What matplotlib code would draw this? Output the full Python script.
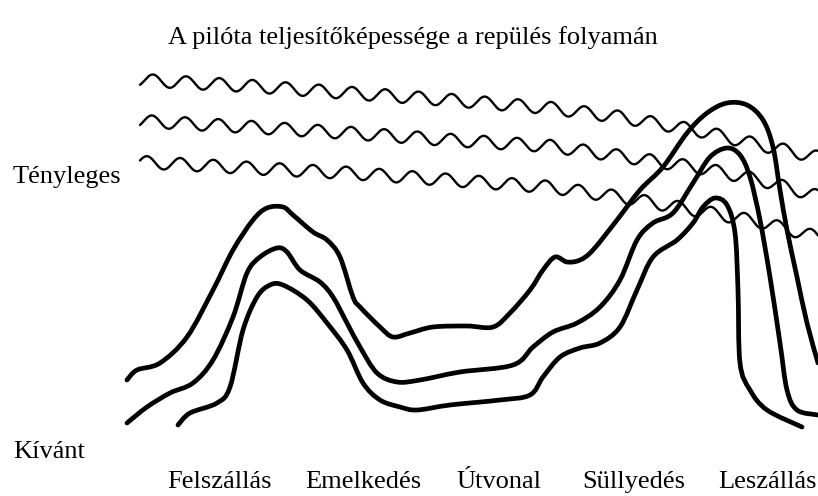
import numpy as np
import matplotlib
matplotlib.use("Agg")
import matplotlib.pyplot as plt
from matplotlib.path import Path
from matplotlib.patches import PathPatch

# ---- data (in image-pixel units, y downward) ----
title = "A pilóta teljesítőképessége a repülés folyamán"
label_top = "Tényleges"
label_bottom = "Kívánt"
phases = ["Felszállás", "Emelkedés", "Útvonal", "Süllyedés", "Leszállás"]

# "Tényleges" (actual) wavy lines: baseline points
wave_x = [140, 250, 350, 450, 550, 620, 700, 760, 818]
wave1_y = [80, 86, 93, 100, 108, 117, 131, 145, 157]
wave2_y = [121, 127, 133, 140, 146, 156, 168, 180, 196]
wave3_y = [162, 168, 173, 180, 187, 197, 211, 222, 237]
wave_first_peak = [153, 152, 147]

# thick "Kívánt" (required) curves
outer_x = [127, 137, 160, 187, 213, 233, 253, 267, 283, 293, 313, 327, 340, 353,
           360, 380, 393, 410, 433, 467, 493, 510, 530, 543, 555, 567, 580, 593,
           617, 640, 663, 687, 707, 727, 747, 763, 773, 780, 787, 797, 807, 818]
outer_y = [380, 370, 363, 337, 290, 250, 220, 208, 207, 215, 232, 240, 257, 297,
           307, 327, 337, 333, 327, 326, 327, 313, 290, 270, 257, 262, 260, 250,
           220, 190, 167, 133, 113, 103, 105, 120, 147, 190, 230, 277, 323, 363]

middle_x = [127, 147, 170, 193, 213, 233, 247, 260, 277, 287, 300, 320, 333, 347,
            360, 377, 397, 420, 460, 513, 533, 553, 577, 600, 620, 637, 653, 673,
            693, 710, 727, 740, 750, 760, 770, 780, 787, 797, 818]
middle_y = [423, 407, 393, 383, 360, 317, 273, 257, 248, 252, 270, 282, 297, 323,
            347, 373, 382, 380, 372, 365, 347, 332, 323, 307, 280, 240, 223, 213,
            183, 157, 148, 155, 177, 220, 277, 343, 390, 410, 415]

inner_x = [178, 190, 217, 230, 243, 257, 270, 283, 307, 327, 347, 363, 380, 400,
           417, 450, 500, 530, 543, 560, 580, 600, 620, 637, 653, 677, 693, 703,
           715, 727, 735, 738, 740, 750, 767, 802]
inner_y = [425, 413, 403, 387, 330, 297, 285, 285, 300, 323, 350, 383, 400, 407,
           410, 405, 400, 395, 377, 357, 348, 343, 327, 290, 257, 240, 223, 207,
           198, 205, 233, 290, 363, 390, 410, 427]

# ---- style ----
W, H = 818, 496
WAVE_PERIOD = 33.2
WAVE_AMP = 6.2
FONT = "Liberation Serif"
FS = 19


def smooth_path(xs, ys):
    """Catmull-Rom through the read points, rendered as cubic Bezier."""
    p = np.column_stack([xs, ys]).astype(float)
    verts = [p[0]]
    codes = [Path.MOVETO]
    n = len(p)
    for i in range(n - 1):
        p0 = p[i - 1] if i > 0 else p[i]
        p1, p2 = p[i], p[i + 1]
        p3 = p[i + 2] if i + 2 < n else p[i + 1]
        c1 = p1 + (p2 - p0) / 6.0
        c2 = p2 - (p3 - p1) / 6.0
        verts += [c1, c2, p2]
        codes += [Path.CURVE4] * 3
    return Path(verts, codes)


fig = plt.figure(figsize=(W / 100, H / 100), dpi=100)
ax = fig.add_axes([0, 0, 1, 1])
ax.set_xlim(0, W)
ax.set_ylim(H, 0)
ax.axis("off")

# wavy lines
for by, pk in zip([wave1_y, wave2_y, wave3_y], wave_first_peak):
    xx = np.linspace(wave_x[0], wave_x[-1], 2000)
    base = np.interp(xx, wave_x, by)
    yy = base - WAVE_AMP * np.cos(2 * np.pi * (xx - pk) / WAVE_PERIOD)
    ax.plot(xx, yy, color="black", lw=1.7, solid_capstyle="round")

# thick curves
for xs, ys in [(outer_x, outer_y), (middle_x, middle_y), (inner_x, inner_y)]:
    ax.add_patch(PathPatch(smooth_path(xs, ys), fill=False, lw=3.4,
                           edgecolor="black", capstyle="round",
                           joinstyle="round"))

ax.text(413, 44, title, fontsize=FS, family=FONT, ha="center", va="baseline")
ax.text(13, 183, label_top, fontsize=FS, family=FONT, ha="left", va="baseline")
ax.text(13, 458, label_bottom, fontsize=FS, family=FONT, ha="left", va="baseline")
for name, x in zip(phases, [167, 305, 456, 582, 718]):
    ax.text(x, 488, name, fontsize=FS, family=FONT, ha="left", va="baseline")

fig.savefig("out.png", dpi=100)
